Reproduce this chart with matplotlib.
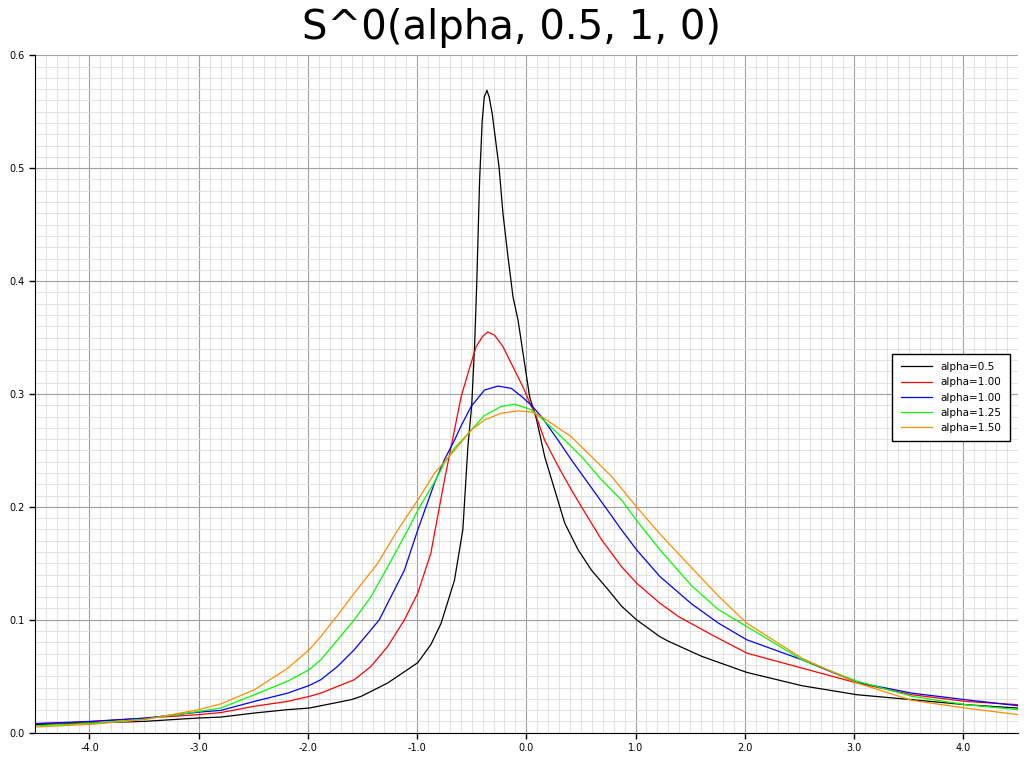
import matplotlib.pyplot as plt
from matplotlib.ticker import MultipleLocator, FormatStrFormatter

# values
x_a050 = [-4.5, -3.99, -3.5, -3.0, -2.798, -2.49, -2.186, -1.988, -1.728, -1.606, -1.514, -1.269,
          -1.116, -0.994, -0.874, -0.78, -0.658, -0.581, -0.535, -0.50, -0.49, -0.474, -0.453,
          -0.428, -0.404, -0.385, -0.361, -0.34, -0.312, -0.25, -0.214, -0.168, -0.122, -0.076,
          -0.016, 0.030, 0.092, 0.168, 0.26, 0.352, 0.474, 0.596, 0.75, 0.872, 1.009, 1.223,
          1.30, 1.606, 2.018, 2.523, 3.028, 3.532, 4.02, 4.5]
y_a050 = [0.0071, 0.0086, 0.010, 0.013, 0.0138, 0.0174, 0.0204, 0.0218, 0.0268, 0.0292, 0.0321,
          0.044, 0.054, 0.062, 0.078, 0.097, 0.135, 0.180, 0.2535, 0.29, 0.31, 0.342, 0.401,
          0.489, 0.542, 0.563, 0.569, 0.563, 0.548, 0.501, 0.46, 0.4215, 0.386, 0.3655, 0.327,
          0.2976, 0.278, 0.2445, 0.215, 0.1855, 0.162, 0.144, 0.1265, 0.112, 0.100, 0.085,
          0.081, 0.0676, 0.0534, 0.0416, 0.0336, 0.0292, 0.0248, 0.0218]

x_a075 = [-4.5, -4.11, -3.5, -3.0, -2.798, -2.49, -2.186, -1.988, -1.881, -1.728, -1.575, -1.422,
          -1.269, -1.116, -0.994, -0.874, -0.841, -0.749, -0.688, -0.627, -0.596, -0.52, -0.459,
          -0.40, -0.352, -0.29, -0.214, -0.122, -0.03, 0.046, 0.076, 0.168, 0.291, 0.413, 0.505,
          0.688, 0.872, 1.009, 1.223, 1.39, 1.697, 2.018, 2.523, 3.028, 3.532, 4.02, 4.5]
y_a075 = [0.0080, 0.0091, 0.0128, 0.016, 0.0178, 0.0234, 0.0277, 0.0321, 0.0351, 0.041, 0.0469,
          0.0587, 0.0764, 0.100, 0.1236, 0.159, 0.1765, 0.224, 0.2535, 0.283, 0.298, 0.323,
          0.342, 0.351, 0.355, 0.352, 0.342, 0.324, 0.306, 0.289, 0.284, 0.259, 0.236, 0.215,
          0.200, 0.171, 0.147, 0.1325, 0.1147, 0.103, 0.0867, 0.0705, 0.0572, 0.044, 0.0336,
          0.0277, 0.0248]

x_a100 = [-4.5, -3.99, -3.5, -3.0, -2.798, -2.49, -2.186, -1.988, -1.881, -1.728, -1.575, -1.422,
          -1.346, -1.269, -1.116, -0.994, -0.841, -0.749, -0.658, -0.596, -0.505, -0.383, -0.26,
          -0.138, -0.046, 0.046, 0.138, 0.291, 0.413, 0.566, 0.719, 0.872, 1.009, 1.223, 1.514,
          1.759, 2.018, 2.523, 3.028, 3.532, 4.02, 4.5]
y_a100 = [0.008, 0.010, 0.0128, 0.0182, 0.0197, 0.0277, 0.035, 0.0418, 0.0469, 0.0587, 0.0735,
          0.0912, 0.100, 0.1148, 0.144, 0.1796, 0.221, 0.242, 0.259, 0.272, 0.289, 0.3035,
          0.307, 0.305, 0.298, 0.290, 0.280, 0.259, 0.2416, 0.221, 0.2003, 0.1796, 0.162,
          0.1383, 0.114, 0.097, 0.0823, 0.0646, 0.0445, 0.035, 0.0292, 0.0239]

x_a125 = [-4.5, -3.99, -3.5, -3.0, -2.798, -2.49, -2.186, -1.988, -1.881, -1.728, -1.575, -1.422,
          -1.269, -1.085, -0.994, -0.841, -0.749, -0.658, -0.505, -0.383, -0.229, -0.107, 0.046,
          0.138, 0.321, 0.505, 0.688, 0.872, 1.009, 1.223, 1.514, 1.759, 2.018, 2.523, 3.028,
          3.532, 4.02, 4.5]
y_a125 = [0.0062, 0.0083, 0.0119, 0.0188, 0.0218, 0.0336, 0.0456, 0.0558, 0.0646, 0.0823, 0.100,
          0.1206, 0.147, 0.1796, 0.197, 0.222, 0.239, 0.252, 0.268, 0.281, 0.289, 0.291, 0.286,
          0.2785, 0.262, 0.2445, 0.224, 0.206, 0.188, 0.162, 0.130, 0.109, 0.094, 0.0646,
          0.0456, 0.0322, 0.0248, 0.0204]

x_a150 = [-4.5, -3.99, -3.5, -3.0, -2.798, -2.49, -2.186, -1.988, -1.881, -1.728, -1.575, -1.361,
          -1.177, -0.994, -0.841, -0.749, -0.658, -0.505, -0.383, -0.229, -0.076, 0.046, 0.138,
          0.413, 0.596, 0.78, 1.009, 1.223, 1.514, 1.759, 2.018, 2.523, 3.028, 3.532, 4.02, 4.5]
y_a150 = [0.005, 0.0074, 0.0115, 0.0204, 0.0254, 0.038, 0.057, 0.0735, 0.0852, 0.104, 0.1236,
          0.150, 0.1796, 0.206, 0.2297, 0.240, 0.250, 0.268, 0.277, 0.283, 0.285, 0.284, 0.280,
          0.262, 0.2445, 0.227, 0.200, 0.176, 0.146, 0.121, 0.097, 0.066, 0.044, 0.0286,
          0.0218, 0.016]

series = [
    ('alpha=0.5', x_a050, y_a050, 'black'),
    ('alpha=1.00', x_a075, y_a075, 'red'),
    ('alpha=1.00', x_a100, y_a100, 'blue'),
    ('alpha=1.25', x_a125, y_a125, '#00ff00'),
    ('alpha=1.50', x_a150, y_a150, 'darkorange'),
]

fig = plt.figure(figsize=(10.24, 7.68), dpi=100)
ax = fig.add_axes([0.034, 0.046, 0.96, 0.882])

for label, xs, ys, color in series:
    ax.plot(xs, ys, color=color, lw=0.9, label=label)

ax.set_xlim(-4.5, 4.5)
ax.set_ylim(0, 0.6)
ax.xaxis.set_major_locator(MultipleLocator(1.0))
ax.xaxis.set_minor_locator(MultipleLocator(0.1))
ax.yaxis.set_major_locator(MultipleLocator(0.1))
ax.yaxis.set_minor_locator(MultipleLocator(0.01))
ax.xaxis.set_major_formatter(FormatStrFormatter('%.1f'))
ax.yaxis.set_major_formatter(FormatStrFormatter('%.1f'))
ax.grid(which='major', color='#a0a0a0', lw=0.8)
ax.grid(which='minor', color='#dddddd', lw=0.6)
ax.set_axisbelow(True)
ax.tick_params(labelsize=7, length=4, width=1)
ax.tick_params(which='minor', length=0)
ax.spines['top'].set_visible(False)
ax.spines['right'].set_visible(False)

leg = ax.legend(loc='upper right', bbox_to_anchor=(0.997, 0.567), fontsize=7.5,
                fancybox=False, framealpha=1, edgecolor='black', borderpad=0.8,
                handlelength=3)
leg.get_frame().set_linewidth(1)

fig.suptitle('S^0(alpha, 0.5, 1, 0)', fontsize=29, y=0.99)

fig.savefig('out.png', dpi=100)
